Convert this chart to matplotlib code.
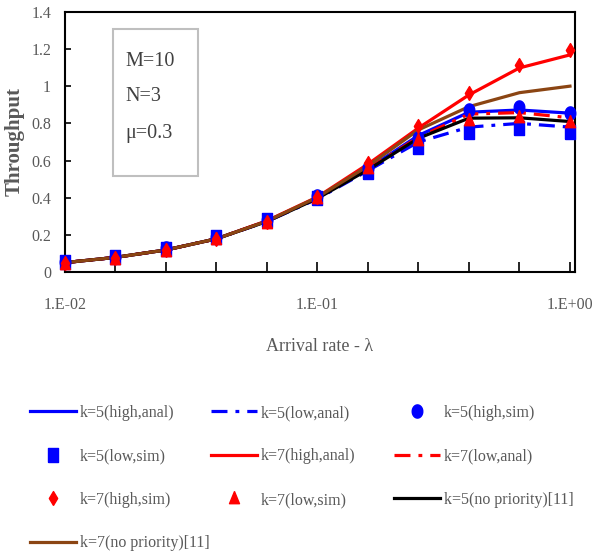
import matplotlib
matplotlib.use("Agg")
import matplotlib.pyplot as plt
from matplotlib.patches import Rectangle
import numpy as np

# ---- data ----
arrival_rate = [0.01, 0.0158, 0.0251, 0.0398, 0.0631, 0.1, 0.158, 0.251, 0.398, 0.631, 1.0]

k5_high_anal = [0.052, 0.080, 0.120, 0.180, 0.275, 0.400, 0.555, 0.735, 0.860, 0.872, 0.855]
k5_low_anal  = [0.052, 0.080, 0.120, 0.180, 0.273, 0.395, 0.545, 0.700, 0.780, 0.800, 0.780]
k5_high_sim  = [0.057, 0.084, 0.128, 0.190, 0.282, 0.410, 0.560, 0.720, 0.870, 0.890, 0.855]
k5_low_sim   = [0.057, 0.084, 0.125, 0.188, 0.280, 0.400, 0.540, 0.675, 0.756, 0.774, 0.756]
k7_high_anal = [0.052, 0.080, 0.120, 0.180, 0.277, 0.405, 0.580, 0.775, 0.953, 1.098, 1.168]
k7_low_anal  = [0.052, 0.080, 0.120, 0.180, 0.275, 0.400, 0.555, 0.725, 0.850, 0.858, 0.830]
k7_high_sim  = [0.050, 0.078, 0.120, 0.180, 0.270, 0.406, 0.586, 0.787, 0.965, 1.115, 1.195]
k7_low_sim   = [0.045, 0.072, 0.112, 0.177, 0.267, 0.400, 0.560, 0.710, 0.820, 0.836, 0.810]
k5_nopri     = [0.052, 0.080, 0.120, 0.180, 0.273, 0.397, 0.550, 0.720, 0.828, 0.830, 0.810]
k7_nopri     = [0.052, 0.080, 0.120, 0.180, 0.275, 0.403, 0.570, 0.765, 0.890, 0.965, 1.000]

labels = ["k=5(high,anal)", "k=5(low,anal)", "k=5(high,sim)", "k=5(low,sim)",
          "k=7(high,anal)", "k=7(low,anal)", "k=7(high,sim)", "k=7(low,sim)",
          "k=5(no priority)[11]", "k=7(no priority)[11]"]
x_ticklabels = ["1.E-02", "1.E-01", "1.E+00"]
y_ticks = [0, 0.2, 0.4, 0.6, 0.8, 1.0, 1.2, 1.4]
y_ticklabels = ["0", "0.2", "0.4", "0.6", "0.8", "1", "1.2", "1.4"]
params = ["M=10", "N=3", "\u03bc=0.3"]

# ---- style ----
plt.rcParams['font.family'] = ['Liberation Serif', 'DejaVu Serif']
GRAY = '#595959'
BLUE = '#0000FF'
RED = '#FF0000'
BROWN = '#8B4513'
DD = (5, 2.5, 1.2, 2.5)

# slightly tall (narrow) marker shapes
t = np.linspace(0, 2*np.pi, 40)
M_ELLIPSE = list(zip(0.8*np.cos(t), np.sin(t)))
M_SQUARE = [(-0.78, -1), (0.78, -1), (0.78, 1), (-0.78, 1), (-0.78, -1)]
M_DIAMOND = [(0, -1), (0.6, 0), (0, 1), (-0.6, 0), (0, -1)]
M_TRI = [(0, 1), (0.72, -0.75), (-0.72, -0.75), (0, 1)]

fig = plt.figure(figsize=(5.97, 5.59), dpi=100)
ax = fig.add_axes([65/597, 1-272.3/559, 510/597, (272.3-11.7)/559])

handles = []
h, = ax.plot(arrival_rate, k5_high_anal, color=BLUE, lw=2.3, zorder=2); handles.append(h)
h, = ax.plot(arrival_rate, k5_low_anal, color=BLUE, lw=2.3, dashes=DD, zorder=2); handles.append(h)
h, = ax.plot(arrival_rate, k5_high_sim, ls='none', marker=M_ELLIPSE, ms=9.5, color=BLUE, zorder=3, clip_on=False); handles.append(h)
h, = ax.plot(arrival_rate, k5_low_sim, ls='none', marker=M_SQUARE, ms=9.5, color=BLUE, zorder=3, clip_on=False); handles.append(h)
h, = ax.plot(arrival_rate, k7_high_anal, color=RED, lw=2.3, zorder=2); handles.append(h)
h, = ax.plot(arrival_rate, k7_low_anal, color=RED, lw=2.3, dashes=DD, zorder=2); handles.append(h)
h, = ax.plot(arrival_rate, k7_high_sim, ls='none', marker=M_DIAMOND, ms=10, color=RED, zorder=3, clip_on=False); handles.append(h)
h, = ax.plot(arrival_rate, k7_low_sim, ls='none', marker=M_TRI, ms=10, color=RED, zorder=3, clip_on=False); handles.append(h)
h, = ax.plot(arrival_rate, k5_nopri, color='black', lw=2.3, zorder=2.2); handles.append(h)
h, = ax.plot(arrival_rate, k7_nopri, color=BROWN, lw=2.3, zorder=2.4); handles.append(h)

ax.set_xscale('log')
ax.set_xlim(0.01, 1.047)
ax.set_ylim(0, 1.4)
major = [10**(-2 + 0.2*i) for i in range(11)]
ax.xaxis.set_major_locator(matplotlib.ticker.FixedLocator(major))
ax.xaxis.set_minor_locator(matplotlib.ticker.NullLocator())
ax.set_xticklabels([x_ticklabels[i//5] if i % 5 == 0 else "" for i in range(11)])
ax.set_yticks(y_ticks)
ax.set_yticklabels(y_ticklabels)
ax.tick_params(axis='x', direction='in', length=7, width=1.2, pad=18, labelsize=11.5, labelcolor=GRAY)
ax.tick_params(axis='y', direction='in', length=4, width=1.2, pad=10, labelsize=11.5, labelcolor=GRAY)
for s in ax.spines.values():
    s.set_linewidth(1.5)
    s.set_color('black')

ax.set_xlabel("Arrival rate - \u03bb", fontsize=13, color=GRAY)
ax.xaxis.label.set_va('center')
ax.xaxis.set_label_coords(0.5, -0.283)
ax.set_ylabel("Throughput", fontsize=15, fontweight='bold', color=GRAY)
ax.yaxis.label.set_va('center')
ax.yaxis.set_label_coords(-0.098, 0.5)

# parameter box
ax.add_patch(Rectangle((0.094, 0.369), 0.167, 0.566, transform=ax.transAxes,
                       fill=False, edgecolor='#BFBFBF', lw=1.5, zorder=4))
for txt, yy in zip(params, [0.807, 0.673, 0.534]):
    ax.text(0.118, yy, txt, transform=ax.transAxes, fontsize=14.5, color='#404040',
            ha='left', va='center', zorder=5)

# legend laid out row-wise in three columns
cols = [[0, 3, 6, 9], [1, 4, 7], [2, 5, 8]]
xs = [30/597, 211/597, 394/597]
for idx, xa in zip(cols, xs):
    fig.legend([handles[i] for i in idx], [labels[i] for i in idx],
               loc='upper left', bbox_to_anchor=(xa, 1-405/559),
               frameon=False, borderpad=0, borderaxespad=0,
               handlelength=2.9, handletextpad=0.2, labelspacing=1.72,
               fontsize=11.5, labelcolor=GRAY)

fig.savefig("out.png", dpi=100)
